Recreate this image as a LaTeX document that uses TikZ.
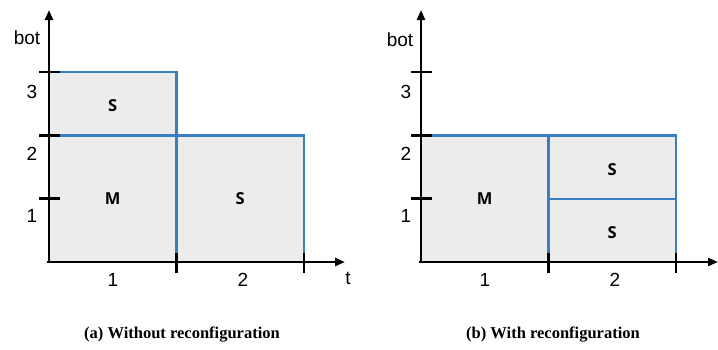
\documentclass[tikz,border=0pt]{standalone}
\usepackage{fontspec}
\newfontfamily\axisfont{Liberation Sans}
\newfontfamily\cellfont{Open Sans}
\newfontfamily\capfont{Liberation Serif}
\usetikzlibrary{arrows.meta}
\definecolor{blueline}{RGB}{60,125,193}
\definecolor{cellgray}{RGB}{236,236,236}

\begin{document}
\begin{tikzpicture}[x=127.5pt, y=63.3pt, >={Triangle[length=10pt,width=8pt]}]
\tikzset{
  cell/.style={draw=blueline, fill=cellgray, line width=2.4pt},
  axisline/.style={line width=2.5pt, ->},
  tickline/.style={line width=2.5pt},
  lab/.style={font=\axisfont\fontsize{19}{22}\selectfont, inner sep=0pt},
  tag/.style={font=\cellfont\bfseries\fontsize{16.5}{18}\selectfont, inner sep=0pt},
  captext/.style={font=\capfont\bfseries\fontsize{16.5}{19}\selectfont, inner sep=0pt}
}
\useasboundingbox (-49pt,-87pt) rectangle (669pt,262pt);

% (a) without reconfiguration
\begin{scope}
  \draw[cell] (0,2) rectangle (1,3);
  \draw[cell] (0,0) rectangle (1,2);
  \draw[cell] (1,0) rectangle (2,2);
  \node[tag] (am)  at (0.5,1)   {M};
  \node[tag] (as1) at (0.5,2.47) {S};
  \node[tag] (as2) at (1.5,1)   {S};
  \coordinate (ao) at (-2pt,0);
  \coordinate (aoy) at (0,-1pt);
  \coordinate (ax) at (296pt,0);
  \coordinate (ay) at (0,252pt);
  \draw[axisline] (ao) -- (ax);
  \draw[axisline] (aoy) -- (ay);
  \draw[tickline] (0,1) ++(-10pt,0) -- ++(21pt,0);
  \draw[tickline] (0,2) ++(-10pt,0) -- ++(21pt,0);
  \draw[tickline] (0,3) ++(-10pt,0) -- ++(21pt,0);
  \draw[tickline] (1,0) ++(0,9pt) -- ++(0,-20pt);
  \draw[tickline] (2,0) ++(0,9pt) -- ++(0,-20pt);
  \node[lab] (abot) at (-22pt,224pt) {bot};
  \node[lab] (ay1) at (-17pt,46pt)  {1};
  \node[lab] (ay2) at (-17pt,108pt) {2};
  \node[lab] (ay3) at (-17pt,170pt) {3};
  \node[lab] (ax1) at (64pt,-18pt)  {1};
  \node[lab] (ax2) at (194pt,-18pt) {2};
  \node[lab] (at)  at (299pt,-16pt) {t};
  \node[captext] (acap) at (133pt,-73pt) {(a) Without reconfiguration};
\end{scope}

% (b) with reconfiguration
\begin{scope}[xshift=372pt]
  \draw[cell] (0,0) rectangle (1,2);
  \draw[cell] (1,1) rectangle (2,2);
  \draw[cell] (1,0) rectangle (2,1);
  \node[tag] (bm)  at (0.5,1)   {M};
  \node[tag] (bs1) at (1.5,1.46) {S};
  \node[tag] (bs2) at (1.5,0.46) {S};
  \coordinate (bo) at (-2pt,0);
  \coordinate (boy) at (0,-1pt);
  \coordinate (bx) at (297pt,0);
  \coordinate (by) at (0,252pt);
  \draw[axisline] (bo) -- (bx);
  \draw[axisline] (boy) -- (by);
  \draw[tickline] (0,1) ++(-10pt,0) -- ++(21pt,0);
  \draw[tickline] (0,2) ++(-10pt,0) -- ++(21pt,0);
  \draw[tickline] (0,3) ++(-10pt,0) -- ++(21pt,0);
  \draw[tickline] (1,0) ++(0,9pt) -- ++(0,-20pt);
  \draw[tickline] (2,0) ++(0,9pt) -- ++(0,-20pt);
  \node[lab] (bbot) at (-21pt,222pt) {bot};
  \node[lab] (by1) at (-15pt,46pt)  {1};
  \node[lab] (by2) at (-15pt,108pt) {2};
  \node[lab] (by3) at (-15pt,170pt) {3};
  \node[lab] (bx1) at (64pt,-18pt)  {1};
  \node[lab] (bx2) at (194pt,-18pt) {2};
  \node[lab] (bt)  at (301pt,-16pt) {t};
  \node[captext] (bcap) at (132pt,-73pt) {(b) With reconfiguration};
\end{scope}
\end{tikzpicture}
\end{document}
